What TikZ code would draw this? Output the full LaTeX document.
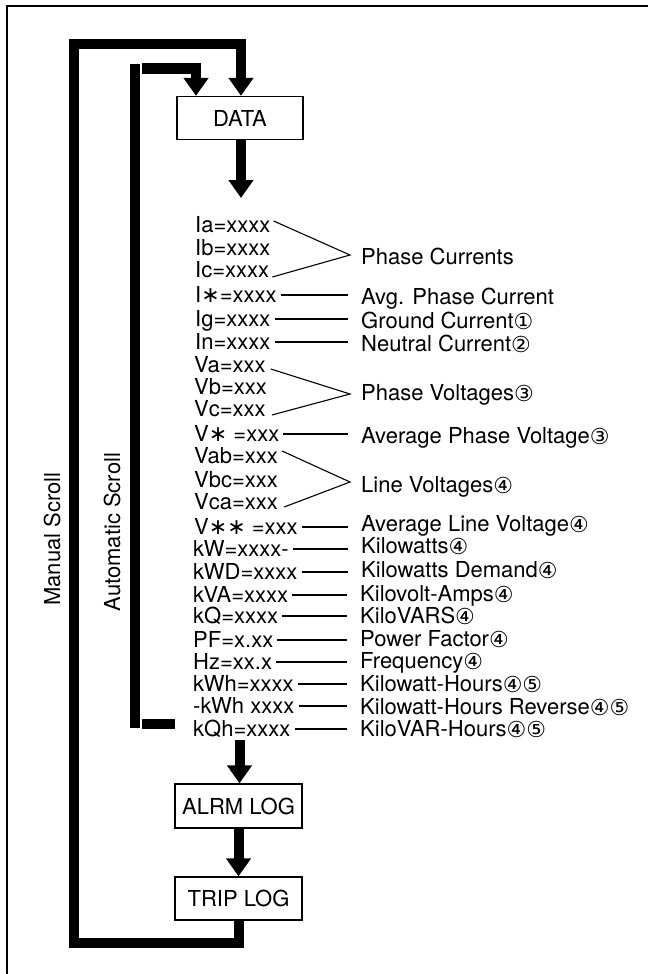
\documentclass[tikz,border=0pt]{standalone}
\usepackage{fontspec}
\setmainfont{TeX Gyre Heros}
\newfontfamily\djv{DejaVu Sans}
\usetikzlibrary{arrows.meta,calc}
\newcommand\cn[1]{\raisebox{-1.5pt}{\djv\fontsize{22}{22}\selectfont #1}}
\newcommand\stx{{\djv\fontsize{22}{22}\selectfont ∗}}
\newcommand\conn[2]{\path ([shift={(4,-7)}]#1.base east) coordinate (s);
  \draw[conline] (s) -- ($(s -| #2.base west)+(-13,0)$);}
\begin{document}
\begin{tikzpicture}[x=1pt,y=-1pt,
  txt/.style={anchor=base west, inner sep=0pt, font=\fontsize{22}{24}\selectfont},
  boxnode/.style={draw, line width=1.3pt, minimum width=126pt, minimum height=43pt, inner sep=0pt, font=\fontsize{22}{24}\selectfont},
  thickline/.style={line width=10pt},
  bigarrow/.style={line width=10pt, -{Triangle[width=24pt,length=18pt]}},
  conline/.style={line width=1.1pt},
  rot/.style={rotate=90, inner sep=0pt, font=\fontsize{22}{24}\selectfont}]
\useasboundingbox (0,0) rectangle (648,974);
\fill[white] (0,0) rectangle (648,974);
% frame
\draw[line width=1.5pt] (7,974) -- (7,6) -- (648,6);

% boxes
\node[boxnode] (data) at (240,118) {DATA};
\node[boxnode, minimum width=127pt, minimum height=44pt] (alrm) at (238.5,806) {ALRM LOG};
\node[boxnode, minimum width=127pt] (trip) at (238.5,898.5) {TRIP LOG};

% scroll labels
\node[rot] (man) at (52,539) {Manual Scroll};
\node[rot] (auto) at (112,532) {Automatic Scroll};

% left values
\node[txt] (lia) at (195,232) {Ia=xxxx};
\node[txt] (lib) at (195,255) {Ib=xxxx};
\node[txt] (lic) at (195,277) {Ic=xxxx};
\node[txt] (lis) at (195,302) {I\stx=xxxx};
\node[txt] (lig) at (195,326) {Ig=xxxx};
\node[txt] (lin) at (195,349) {In=xxxx};
\node[txt] (lva) at (194,372) {Va=xxx};
\node[txt] (lvb) at (194,394) {Vb=xxx};
\node[txt] (lvc) at (194,416) {Vc=xxx};
\node[txt] (lvs) at (194,441) {V\stx\ =xxx};
\node[txt] (lvab) at (194,463) {Vab=xxx};
\node[txt] (lvbc) at (194,487) {Vbc=xxx};
\node[txt] (lvca) at (194,509) {Vca=xxx};
\node[txt] (lvss) at (194,534) {V\stx\stx\ =xxx};
\node[txt] (lkw) at (193,556) {kW=xxxx-};
\node[txt] (lkwd) at (193,579) {kWD=xxxx};
\node[txt] (lkva) at (193,602) {kVA=xxxx};
\node[txt] (lkq) at (193,623) {kQ=xxxx};
\node[txt] (lpf) at (193,647) {PF=x.xx};
\node[txt] (lhz) at (193,669) {Hz=xx.x};
\node[txt] (lkwh) at (193,691) {kWh=xxxx};
\node[txt] (lrkwh) at (193,713) {-kWh xxxx};
\node[txt] (lkqh) at (193,736) {kQh=xxxx};

% right labels
\node[txt] (rpc) at (361,264) {Phase Currents};
\node[txt] (ris) at (361,304) {Avg. Phase Current};
\node[txt] (rig) at (361,328) {Ground Current\cn{①}};
\node[txt] (rin) at (361,351) {Neutral Current\cn{②}};
\node[txt] (rpv) at (361,400) {Phase Voltages\cn{③}};
\node[txt] (rvs) at (361,443) {Average Phase Voltage\cn{③}};
\node[txt] (rlv) at (361,492) {Line Voltages\cn{④}};
\node[txt] (rvss) at (361,531) {Average Line Voltage\cn{④}};
\node[txt] (rkw) at (361,553) {Kilowatts\cn{④}};
\node[txt] (rkwd) at (361,577) {Kilowatts Demand\cn{④}};
\node[txt] (rkva) at (360,601) {Kilovolt-Amps\cn{④}};
\node[txt] (rkq) at (360,623) {KiloVARS\cn{④}};
\node[txt] (rpf) at (360,646) {Power Factor\cn{④}};
\node[txt] (rhz) at (360,668) {Frequency\cn{④}};
\node[txt] (rkwh) at (360,691) {Kilowatt-Hours\cn{④⑤}};
\node[txt] (rrkwh) at (360,714) {Kilowatt-Hours Reverse\cn{④⑤}};
\node[txt] (rkqh) at (360,736) {KiloVAR-Hours\cn{④⑤}};

% brackets
\coordinate (apc) at (350,255);
\coordinate (apv) at (350,394);
\coordinate (alv) at (350,482);
\draw[conline] ([shift={(3,-11)}]lia.base east) -- (apc) -- ([shift={(3,0)}]lic.base east);
\draw[conline] ([shift={(5,-3)}]lva.base east) -- (apv) -- ([shift={(6,-1)}]lvc.base east);
\draw[conline] ([shift={(4,-12)}]lvab.base east) -- (alv) -- ([shift={(6,-2)}]lvca.base east);

% single connectors
\conn{lis}{ris}
\conn{lig}{rig}
\conn{lin}{rin}
\conn{lvs}{rvs}
\conn{lvss}{rvss}
\conn{lkw}{rkw}
\conn{lkwd}{rkwd}
\conn{lkva}{rkva}
\conn{lkq}{rkq}
\conn{lpf}{rpf}
\conn{lhz}{rhz}
\conn{lkwh}{rkwh}
\conn{lrkwh}{rrkwh}
\conn{lkqh}{rkqh}

% thick flow lines
\coordinate (m1) at (74,943);
\coordinate (m2) at (74,44);
\draw[bigarrow] (trip.south) |- (m1) -- (m2) -| ([xshift=1pt]data.north);

\coordinate (a1) at (135,728);
\coordinate (a2) at (135,64);
\draw[thickline] (a1) -- (a2);
\coordinate (a3) at (142,68.5);
\draw[bigarrow] (a3) -| ([xshift=-44pt]data.north);
\coordinate (a4) at (142,723.5);
\coordinate (a5) at (175,723.5);
\draw[thickline] (a4) -- (a5);

\coordinate (d) at (241,198);
\draw[bigarrow] (d |- data.south) -- (d);
\coordinate (q) at (239.5,740);
\draw[bigarrow] (q) -- (q |- alrm.north);
\draw[bigarrow] (alrm.south) -- (trip.north);
\end{tikzpicture}
\end{document}
